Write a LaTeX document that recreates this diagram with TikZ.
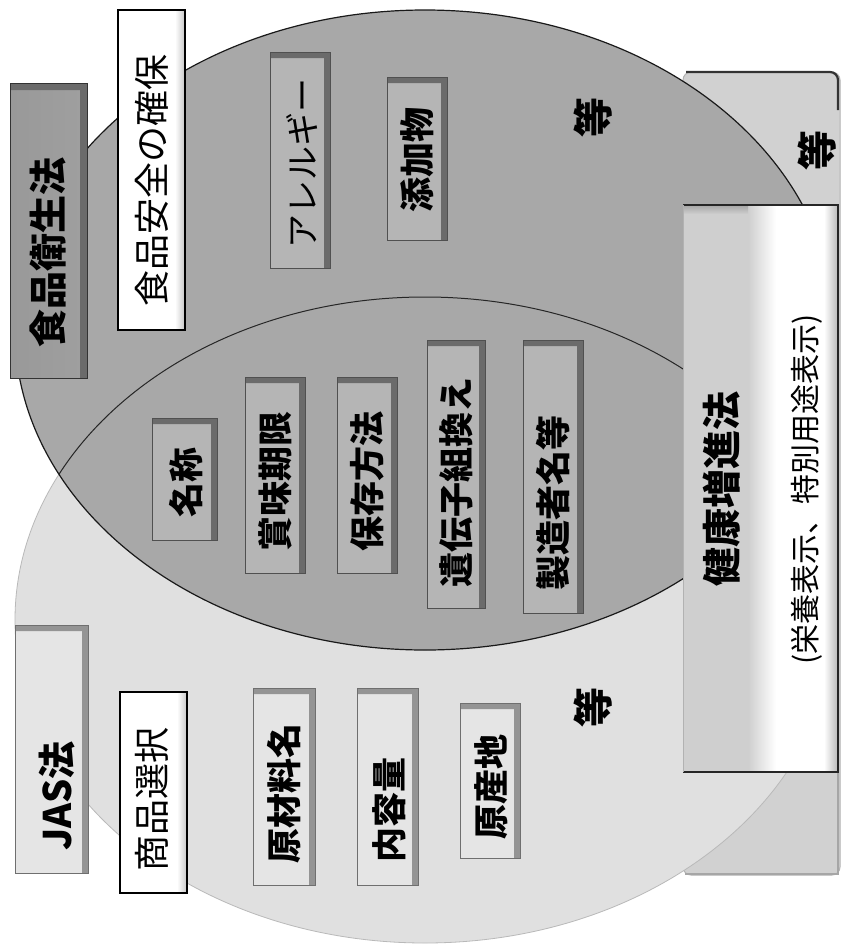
\documentclass[tikz,border=0pt]{standalone}
\usepackage{fontspec}
\setmainfont{Noto Sans CJK JP}
\definecolor{ellA}{gray}{0.66}
\definecolor{ellB}{gray}{0.88}
\definecolor{boxA}{gray}{0.71}
\definecolor{boxB}{gray}{0.90}
\definecolor{shA}{gray}{0.42}
\definecolor{shB}{gray}{0.58}
\definecolor{outerbox}{gray}{0.82}
\newcommand{\myfs}[1]{\fontsize{#1}{#1}\selectfont}
% x1,y1,x2,y2,fill,shadow
\newcommand{\mybox}[6]{%
  \fill[#5] (#1,#2) rectangle (#3,#4);
  \fill[#6] (#1,#2) -- (#3,#2) -- (#3,#4) -- ({#3-6},#4) -- ({#3-6},{#2+6}) -- (#1,{#2+6}) -- cycle;
  \draw[#6!75!black, line width=0.6pt] (#1,#2) rectangle (#3,#4);
}
\newcommand{\whitebox}[4]{%
  \fill[white] (#1,#2) rectangle (#3,#4);
  \shade[left color=white, right color=gray!45] ({#3-10},#2) rectangle (#3,#4);
  \draw[black, line width=1.6pt] (#1,#2) rectangle (#3,#4);
}
\begin{document}
\begin{tikzpicture}[x=1pt,y=-1pt,
  lbl/.style={rotate=90, inner sep=0pt, text=black},
  big/.style={lbl, font=\myfs{38}\bfseries},
  mid/.style={lbl, font=\myfs{35}\bfseries},
  reg/.style={lbl, font=\myfs{36}},
]
\useasboundingbox (0,0) rectangle (841,945);
\fill[white] (0,0) rectangle (841,945);

% outer box of the health promotion law
\fill[outerbox, rounded corners=8pt] (683,72) rectangle (840,875);
\draw[gray!60, line width=1pt, rounded corners=8pt] (683,72) rectangle (840,875);
\draw[black!80, line width=2.2pt, rounded corners=8pt] (686,72) -- (838,72) -- (838,110);
\draw[gray!70, line width=2.5pt] (685,874) -- (838,874) -- (838,772);

% ellipses
\fill[ellB] (425,620) ellipse [x radius=410, y radius=323];
\draw[gray!55, line width=0.8pt] (425,620) ellipse [x radius=410, y radius=323];
\fill[ellA] (425,330) ellipse [x radius=410, y radius=320];
\begin{scope}
  \clip (425,330) ellipse [x radius=410, y radius=320];
  \draw[black!85, line width=1pt] (425,620) ellipse [x radius=410, y radius=323];
\end{scope}
\draw[black!90, line width=1.2pt] (425,330) ellipse [x radius=410, y radius=320];

% panel
\fill[gray!38] (683,205) rectangle (748,772);
\shade[left color=gray!38, right color=white] (748,205) rectangle (776,772);
\fill[white] (776,205) rectangle (824,772);
\shade[left color=white, right color=gray!55] (824,205) rectangle (838,772);
\shade[top color=gray!70, bottom color=gray!38] (683,205) rectangle (748,214);
\draw[black!85, line width=2pt] (683,205) -- (838,205) -- (838,772) -- (683,772);
\draw[gray!60, line width=0.8pt] (683,205) -- (683,772);

% law title boxes
\shade[left color=gray!80, middle color=gray!15, right color=gray!75] (10,83) rectangle (87,378);
\fill[shA] (10,83) -- (87,83) -- (87,378) -- (80,378) -- (80,90) -- (10,90) -- cycle;
\draw[black!80, line width=0.8pt] (10,83) rectangle (87,378);
\mybox{15}{625}{88}{873}{boxB}{shB}

% white boxes
\whitebox{118}{10}{185}{330}
\whitebox{120}{692}{187}{893}

% food sanitation items
\mybox{270}{52}{330}{268}{boxA}{shA}
\mybox{387}{77}{447}{240}{boxA}{shA}

% overlap items
\mybox{152}{418}{217}{540}{boxA}{shA}
\mybox{245}{377}{305}{573}{boxA}{shA}
\mybox{337}{377}{397}{573}{boxA}{shA}
\mybox{427}{340}{485}{608}{boxA}{shA}
\mybox{523}{340}{583}{613}{boxA}{shA}

% JAS items
\mybox{253}{688}{315}{885}{boxB}{shB}
\mybox{357}{688}{418}{885}{boxB}{shB}
\mybox{460}{703}{520}{858}{boxB}{shB}

% texts
\node[big] (shokuei) at (48,252) {食品衛生法};
\node[reg] (anzen) at (152,180) {食品安全の確保};
\node[lbl, font=\myfs{34}] (allergy) at (302,163) {アレルギー};
\node[mid] (tenka) at (417,160) {添加物};
\node[lbl, font=\myfs{40}\bfseries] (toA) at (593,117) {等};

\node[mid] (meisho) at (186,482) {名称};
\node[mid] (shomi) at (275,481) {賞味期限};
\node[mid] (hozon) at (367,481) {保存方法};
\node[mid] (idenshi) at (456,482) {遺伝子組換え};
\node[mid] (seizo) at (553,503) {製造者名等};

\node[big] (jas) at (57,796) {JAS法};
\node[reg] (shohin) at (152,799) {商品選択};
\node[mid] (genzai) at (284,793) {原材料名};
\node[mid] (naiyo) at (389,810) {内容量};
\node[mid] (gensan) at (491,787) {原産地};
\node[lbl, font=\myfs{40}\bfseries] (toB) at (593,707) {等};

\node[lbl, font=\myfs{39}\bfseries] (kenko) at (722,489) {健康増進法};
\node[lbl, font=\myfs{30}] (eiyo) at (807,489) {(栄養表示、特別用途表示)};
\node[lbl, font=\myfs{40}\bfseries] (toC) at (817,150) {等};
\end{tikzpicture}
\end{document}
